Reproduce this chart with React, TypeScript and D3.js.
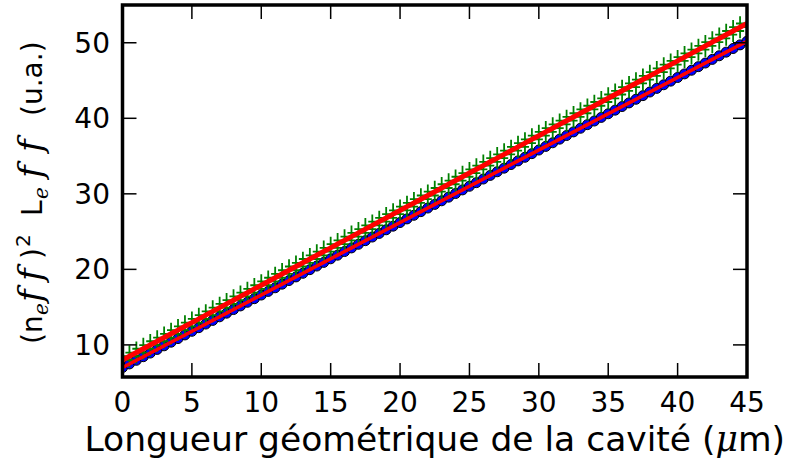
import React from "react";
import * as d3 from "d3";

// Cavity geometric length (µm)
const lengths = [
  0, 0.5, 1, 1.5, 2, 2.5, 3, 3.5, 4, 4.5, 5, 5.5, 6, 6.5, 7, 7.5, 8, 8.5, 9, 9.5,
  10, 10.5, 11, 11.5, 12, 12.5, 13, 13.5, 14, 14.5, 15, 15.5, 16, 16.5, 17, 17.5, 18, 18.5, 19, 19.5,
  20, 20.5, 21, 21.5, 22, 22.5, 23, 23.5, 24, 24.5, 25, 25.5, 26, 26.5, 27, 27.5, 28, 28.5, 29, 29.5,
  30, 30.5, 31, 31.5, 32, 32.5, 33, 33.5, 34, 34.5, 35, 35.5, 36, 36.5, 37, 37.5, 38, 38.5, 39, 39.5,
  40, 40.5, 41, 41.5, 42, 42.5, 43, 43.5, 44, 44.5, 45,
];

// (n_eff)^2 series — green "+" markers
const nEff2 = [
  8.0, 8.5, 8.99, 9.49, 9.98, 10.48, 10.97, 11.47, 11.96, 12.46, 12.95, 13.45, 13.94, 14.44, 14.93, 15.43, 15.92, 16.42, 16.91, 17.41,
  17.9, 18.4, 18.89, 19.39, 19.88, 20.38, 20.87, 21.37, 21.86, 22.36, 22.85, 23.35, 23.84, 24.34, 24.83, 25.33, 25.82, 26.32, 26.81, 27.31,
  27.8, 28.3, 28.79, 29.29, 29.78, 30.28, 30.77, 31.27, 31.76, 32.26, 32.75, 33.25, 33.74, 34.24, 34.73, 35.23, 35.72, 36.22, 36.71, 37.21,
  37.7, 38.2, 38.69, 39.19, 39.68, 40.18, 40.67, 41.17, 41.66, 42.16, 42.65, 43.15, 43.64, 44.14, 44.63, 45.13, 45.62, 46.12, 46.61, 47.11,
  47.6, 48.1, 48.59, 49.09, 49.58, 50.08, 50.57, 51.07, 51.56, 52.06, 52.55,
];

// L_eff series — blue circles
const lEff = [
  7.0, 7.48, 7.96, 8.44, 8.92, 9.4, 9.88, 10.36, 10.84, 11.32, 11.8, 12.28, 12.76, 13.24, 13.72, 14.2, 14.68, 15.16, 15.64, 16.12,
  16.6, 17.08, 17.56, 18.04, 18.52, 19.0, 19.48, 19.96, 20.44, 20.92, 21.4, 21.88, 22.36, 22.84, 23.32, 23.8, 24.28, 24.76, 25.24, 25.72,
  26.2, 26.68, 27.16, 27.64, 28.12, 28.6, 29.08, 29.56, 30.04, 30.52, 31.0, 31.48, 31.96, 32.44, 32.92, 33.4, 33.88, 34.36, 34.84, 35.32,
  35.8, 36.28, 36.76, 37.24, 37.72, 38.2, 38.68, 39.16, 39.64, 40.12, 40.6, 41.08, 41.56, 42.04, 42.52, 43.0, 43.48, 43.96, 44.44, 44.92,
  45.4, 45.88, 46.36, 46.84, 47.32, 47.8, 48.28, 48.76, 49.24, 49.72, 50.2,
];

const xTicks = [0, 5, 10, 15, 20, 25, 30, 35, 40, 45];
const yTicks = [10, 20, 30, 40, 50];
const xDomain = [0, 45];
const yDomain = [5.75, 55];

const W = 791;
const H = 469;
const L = 122.5;
const R = 747;
const T = 5;
const B = 377;

export default function App() {
  const x = d3.scaleLinear().domain(xDomain).range([L, R]);
  const y = d3.scaleLinear().domain(yDomain).range([B, T]);
  const line = d3
    .line<[number, number]>()
    .x((d) => x(d[0]))
    .y((d) => y(d[1]));
  const upper: [number, number][] = lengths.map((v, i) => [v, nEff2[i]]);
  const lower: [number, number][] = lengths.map((v, i) => [v, lEff[i]]);
  const ms = 11;
  const tick = 14;
  const font = "DejaVu Sans";
  const serifIt = { fontFamily: "DejaVu Serif", fontStyle: "italic" as const };
  const yl = 42; // baseline (screen x) of the rotated y label
  const rot = (sy: number, sx = yl) => `translate(${sx},${sy}) rotate(-90)`;

  return (
    <svg
      width={W}
      height={H}
      style={{ position: "absolute", left: 0, top: 0, background: "#fff" }}
      fontFamily={font}
    >
      <defs>
        <clipPath id="plot">
          <rect x={L} y={T} width={R - L} height={B - T} />
        </clipPath>
      </defs>
      <rect x={0} y={0} width={W} height={H} fill="#fff" />
      <g clipPath="url(#plot)">
        {lower.map((d, i) => (
          <circle key={"b" + i} cx={x(d[0])} cy={y(d[1])} r={5} fill="#0000ff" stroke="#000" strokeWidth={1} />
        ))}
        {upper.map((d, i) => {
          const cx = x(d[0]);
          const cy = y(d[1]);
          return (
            <path
              key={"g" + i}
              d={`M${cx - ms},${cy}H${cx + ms}M${cx},${cy - ms}V${cy + ms}`}
              stroke="#008000"
              strokeWidth={1.8}
              fill="none"
            />
          );
        })}
        <path d={line(lower) || ""} stroke="#ff0000" strokeWidth={3.5} fill="none" />
        <path d={line(upper) || ""} stroke="#ff0000" strokeWidth={5} fill="none" />
      </g>
      {/* ticks */}
      {xTicks.map((t) => (
        <g key={"xt" + t}>
          <line x1={x(t)} x2={x(t)} y1={B} y2={B - tick} stroke="#000" strokeWidth={1.5} />
          <line x1={x(t)} x2={x(t)} y1={T} y2={T + tick} stroke="#000" strokeWidth={1.5} />
          <text x={x(t)} y={412} fontSize={28} textAnchor="middle">
            {t}
          </text>
        </g>
      ))}
      {yTicks.map((t) => (
        <g key={"yt" + t}>
          <line x1={L} x2={L + tick} y1={y(t)} y2={y(t)} stroke="#000" strokeWidth={1.5} />
          <line x1={R} x2={R - tick} y1={y(t)} y2={y(t)} stroke="#000" strokeWidth={1.5} />
          <text x={110} y={y(t)} dy="0.36em" fontSize={28} textAnchor="end">
            {t}
          </text>
        </g>
      ))}
      <rect x={L} y={T} width={R - L} height={B - T} fill="none" stroke="#000" strokeWidth={3.5} />
      {/* x label */}
      <text x={(L + R) / 2} y={451} fontSize={34.5} textAnchor="middle">
        Longueur géométrique de la cavité (<tspan fontStyle="italic" fontFamily="DejaVu Serif">μ</tspan>m)
      </text>
      {/* y label, pieces laid out along the rotated axis */}
      <g fontSize={28}>
        <text transform={rot(344)}>(n</text>
        <text transform={rot(315, yl + 6)} {...serifIt} fontSize={20}>e</text>
        <text transform={rot(302)} {...serifIt} fontSize={34}>f</text>
        <text transform={rot(281)} {...serifIt} fontSize={34}>f</text>
        <text transform={rot(259)}>)</text>
        <text transform={rot(247, yl - 12)} fontSize={20}>2</text>
        <text transform={rot(216)}>L</text>
        <text transform={rot(199, yl + 6)} {...serifIt} fontSize={20}>e</text>
        <text transform={rot(178)} {...serifIt} fontSize={34}>f</text>
        <text transform={rot(152)} {...serifIt} fontSize={34}>f</text>
        <text transform={rot(116)}>(u.a.)</text>
      </g>
    </svg>
  );
}
